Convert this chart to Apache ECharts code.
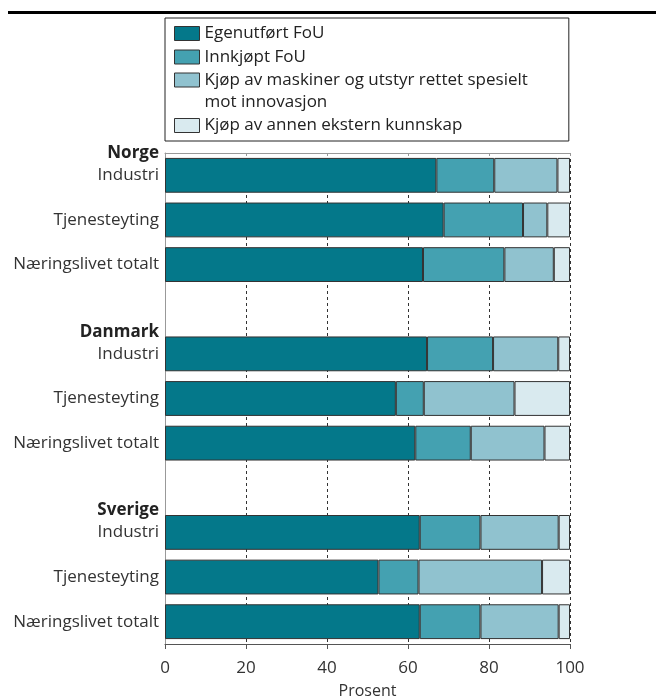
<!DOCTYPE html>
<html>
<head>
<meta charset="utf-8">
<script src="https://cdn.jsdelivr.net/npm/echarts@6/dist/echarts.min.js"></script>
<style>
  html, body { margin: 0; padding: 0; background: #fff; }
  #main { width: 656px; height: 698px; }
</style>
</head>
<body>
<div id="main"></div>
<script>
// data (percent shares, each row sums to 100)
const countries = ["Norge", "Danmark", "Sverige"]
const sectors = ["Industri", "Tjenesteyting", "Næringslivet totalt"]

const seriesNames = [
  "Egenutført FoU",
  "Innkjøpt FoU",
  "Kjøp av maskiner og utstyr rettet spesielt\nmot innovasjon",
  "Kjøp av annen ekstern kunnskap"
]
// order: Norge (3 sectors), Danmark (3), Sverige (3)
const egenutfort = [67.0, 68.8, 63.7, 64.7, 57.0, 61.8, 62.9, 52.7, 62.9]
const innkjopt   = [14.3, 19.6, 20.1, 16.3, 6.9, 13.7, 15.0, 9.9, 15.0]
const maskiner   = [15.6, 6.0, 12.2, 16.1, 22.4, 18.2, 19.3, 30.5, 19.3]
const annen      = [3.1, 5.6, 4.0, 2.9, 13.7, 6.3, 2.8, 6.9, 2.8]

const xTicks = [0, 20, 40, 60, 80, 100]

const colors = ["#04788a", "#44a1b1", "#90c2cf", "#d9eaef"]
const font = "Open Sans"

// category slots, with an empty slot between countries
const cats = []
countries.forEach((c, ci) => {
  sectors.forEach(s => cats.push(c + "|" + s))
  if (ci < countries.length - 1) cats.push("gap" + ci)
})

function toSlots(values) {
  const out = []
  let k = 0
  cats.forEach(cat => {
    if (cat.startsWith("gap")) out.push(null)
    else out.push(values[k++])
  })
  return out
}

const allValues = [egenutfort, innkjopt, maskiner, annen]

// legend icons: the box is taller than the rect so the two-line item keeps its icon on the first line
const iconSingle = "path://M0,0 M0,12 L25,12 L25,26 L0,26 Z M0,38"
const iconTop = "path://M0,0 M0,0.75 L25,0.75 L25,14.75 L0,14.75 Z M0,38"

const chartContainer = document.getElementById("main")
const myChart = echarts.init(chartContainer)

const options = {
  animation: false,
  textStyle: { fontFamily: font },
  graphic: [{
    type: "line",
    shape: { x1: 8, y1: 12.5, x2: 656, y2: 12.5 },
    style: { stroke: "#000", lineWidth: 3 }
  }],
  legend: {
    orient: "vertical",
    left: 165,
    top: 18,
    padding: [-4, 41, -4, 9],
    itemWidth: 25,
    itemHeight: 38,
    itemGap: -15.5,
    borderColor: "#222",
    borderWidth: 1,
    selectedMode: false,
    itemStyle: { borderColor: "#333", borderWidth: 1 },
    textStyle: { fontFamily: font, fontSize: 17, lineHeight: 22.5, color: "#222" },
    data: seriesNames.map((name, i) => i === 2
      ? { name, icon: iconTop, textStyle: { padding: [7.75, 0, 7.75, 0], backgroundColor: "transparent" } }
      : { name, icon: iconSingle })
  },
  grid: { left: 165, right: 86, top: 153, bottom: 54, outerBoundsMode: "none" },
  xAxis: [{
    type: "value",
    position: "bottom",
    min: 0,
    max: 100,
    interval: 20,
    name: "Prosent",
    nameLocation: "middle",
    nameGap: 39,
    nameTextStyle: { fontFamily: font, fontSize: 16, color: "#333" },
    axisLine: { show: true, lineStyle: { color: "#555" } },
    axisTick: { show: true, length: 5, lineStyle: { color: "#555" } },
    axisLabel: { fontFamily: font, fontSize: 17, color: "#333", margin: 16,
      formatter: v => xTicks.includes(v) ? String(v) : "" },
    splitLine: { show: true, lineStyle: { color: "#333", type: [3, 3] } }
  }, {
    type: "value",
    position: "top",
    min: 0,
    max: 100,
    interval: 20,
    axisLine: { show: true, lineStyle: { color: "#999" } },
    axisTick: { show: true, inside: true, length: 3, lineStyle: { color: "#999" } },
    axisLabel: { show: false },
    splitLine: { show: false }
  }],
  yAxis: {
    type: "category",
    inverse: true,
    data: cats,
    axisLine: { show: true, lineStyle: { color: "#999" } },
    axisTick: { show: false },
    axisLabel: {
      interval: 0,
      margin: 6,
      formatter: (value) => {
        if (value.startsWith("gap")) return ""
        const [country, sector] = value.split("|")
        if (sector === sectors[0]) return "{g|" + country + "}\n{s|" + sector + "}\n{s| }"
        return "{s|" + sector + "}"
      },
      rich: {
        g: { fontFamily: font, fontSize: 17, fontWeight: "bold", lineHeight: 22, color: "#222" },
        s: { fontFamily: font, fontSize: 17, lineHeight: 22, color: "#333" }
      }
    }
  },
  series: seriesNames.map((name, i) => ({
    name,
    type: "bar",
    stack: "total",
    xAxisIndex: 0,
    barCategoryGap: "22%",
    itemStyle: { color: colors[i], borderColor: "#333", borderWidth: 1 },
    data: toSlots(allValues[i])
  }))
}

myChart.setOption(options)
window.onresize = () => myChart.resize()
</script>
</body>
</html>
